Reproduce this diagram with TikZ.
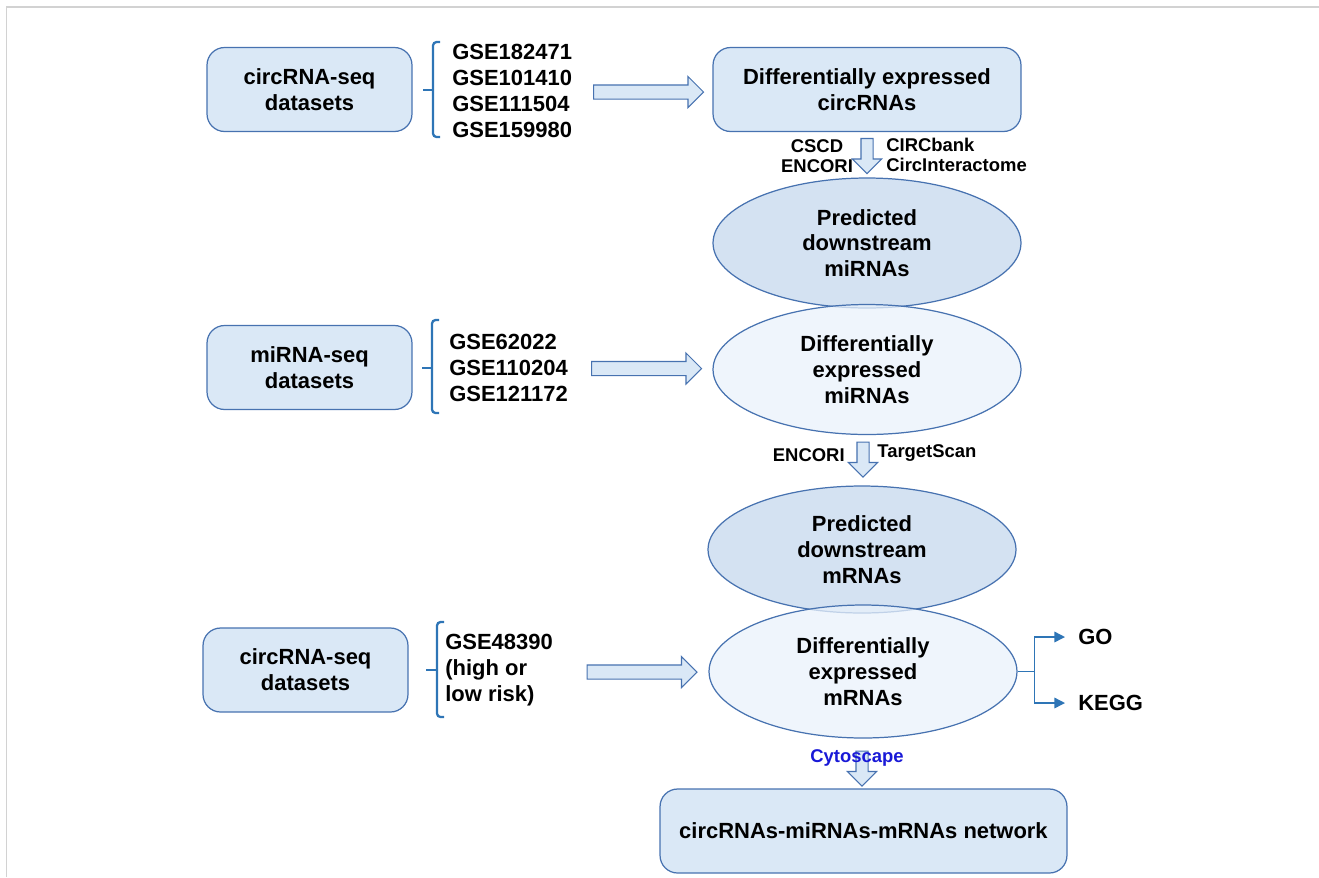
\documentclass[tikz,border=0pt]{standalone}
\usepackage{fontspec}
\setmainfont{Liberation Sans}
\usetikzlibrary{shapes.geometric,shapes.arrows,arrows.meta}

\definecolor{boxfill}{RGB}{218,232,246}
\definecolor{predfill}{RGB}{212,226,242}
\definecolor{difffill}{RGB}{233,242,251}
\definecolor{boxline}{RGB}{71,114,176}
\definecolor{bracecol}{RGB}{46,117,182}
\definecolor{cytocol}{RGB}{25,25,215}
\definecolor{framecol}{RGB}{210,210,210}

\begin{document}
\begin{tikzpicture}[x=0.02cm, y=-0.02cm,
    mainfont/.style={font=\bfseries\fontsize{12.5}{14.7}\selectfont},
    smallfont/.style={font=\bfseries\fontsize{10.5}{11.5}\selectfont},
    databox/.style={draw=boxline, fill=boxfill, rounded corners=10pt, line width=0.7pt, minimum width=4.1cm, minimum height=1.68cm, align=center, mainfont},
    predellipse/.style={ellipse, draw=boxline, fill=predfill, line width=0.7pt, minimum width=6.16cm, minimum height=2.6cm, inner sep=0pt, align=center, mainfont},
    diffellipse/.style={predellipse, fill=difffill, fill opacity=0.75, text opacity=1},
    gselist/.style={anchor=west, align=left, inner sep=0pt, mainfont},
    bracket/.style={draw=bracecol, line width=1.3pt, rounded corners=2pt},
    blockarrow/.style={single arrow, draw=boxline, fill=boxfill, line width=0.6pt, inner sep=0pt, inner ysep=0.13cm, single arrow head extend=0.17cm, minimum height=2.2cm},
    downarrow/.style={blockarrow, rotate=-90, inner ysep=0.11cm, minimum height=0.7cm},
    dbname/.style={inner sep=0pt, smallfont},
    leadarrow/.style={draw=bracecol, line width=0.8pt, -{Triangle[length=6pt,width=6pt]}}]
    \useasboundingbox (0,0) rectangle (1319,877);
    \draw[framecol, line width=1pt] (6.5,877) -- (6.5,7) -- (1319,7);

    \node[databox] (seqA) at (309.5,89.5) {circRNA-seq\\datasets};
    \node[gselist] (gseA) at (452,91) {GSE182471\\GSE101410\\GSE111504\\GSE159980};
    \draw[bracket] (440,42) -- (433,42) -- (433,137) -- (440,137);
    \draw[bracket] (433,90) -- (423,90);
    \node[databox, minimum width=6.16cm] (diffcirc) at (867,89.5) {Differentially expressed\\circRNAs};
    \node[blockarrow] (arrA) at (645,92) {};

    \node[downarrow] (downA) at (867,153) {};
    \node[dbname, align=center] (cscd) at (817,156) {CSCD\\ENCORI};
    \node[dbname, anchor=west, align=left] (circbank) at (886,155) {CIRCbank\\CircInteractome};

    \node[predellipse] (predmi) at (867,243) {Predicted\\downstream\\miRNAs};
    \node[diffellipse] (diffmi) at (867,369.5) {Differentially\\expressed\\miRNAs};

    \node[databox] (seqB) at (309.5,367.5) {miRNA-seq\\datasets};
    \node[gselist] (gseB) at (449,368) {GSE62022\\GSE110204\\GSE121172};
    \draw[bracket] (439,320) -- (432,320) -- (432,413) -- (439,413);
    \draw[bracket] (432,368) -- (422,368);
    \node[blockarrow] (arrB) at (643,368.5) {};

    \node[downarrow] (downB) at (863,456.5) {};
    \node[dbname, anchor=east] (encori) at (845,455) {ENCORI};
    \node[dbname, anchor=west] (targetscan) at (877,453) {TargetScan};

    \node[predellipse, minimum height=2.54cm] (predm) at (862,549.5) {Predicted\\downstream\\mRNAs};
    \node[diffellipse, minimum height=2.66cm] (diffm) at (863,671.5) {Differentially\\expressed\\mRNAs};

    \node[databox] (seqC) at (305.5,670) {circRNA-seq\\datasets};
    \node[gselist] (gseC) at (445,670) {GSE48390\\(high or\\low risk)};
    \draw[bracket] (444,622) -- (437,622) -- (437,717) -- (444,717);
    \draw[bracket] (437,670) -- (426,670);
    \node[blockarrow] (arrC) at (638.5,672) {};

    \node[dbname, mainfont, anchor=west, inner xsep=0.26cm] (go) at (1065,637) {GO};
    \node[dbname, mainfont, anchor=west, inner xsep=0.26cm] (kegg) at (1065,703) {KEGG};
    \draw[leadarrow] (diffm.east) -- ++(17,0) |- (go.west);
    \draw[leadarrow] (diffm.east) -- ++(17,0) |- (kegg.west);

    \node[downarrow] (downC) at (862,765.5) {};
    \node[dbname, text=cytocol] (cytoscape) at (857,758) {Cytoscape};
    \node[databox, minimum width=8.14cm] (network) at (863.5,831) {circRNAs-miRNAs-mRNAs network};
\end{tikzpicture}
\end{document}
